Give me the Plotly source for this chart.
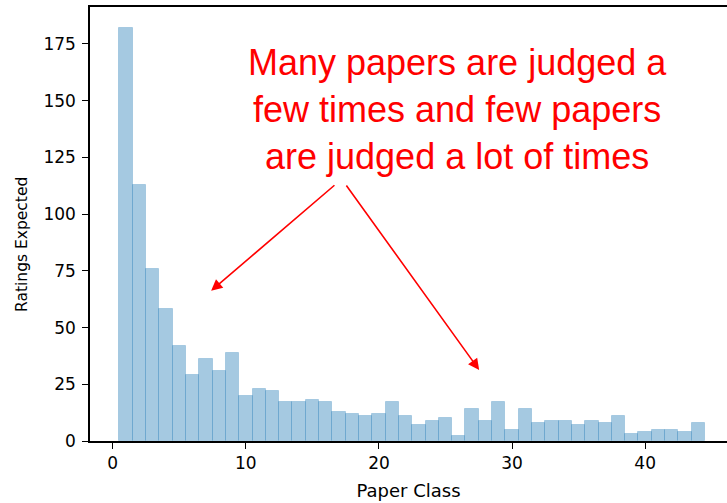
import plotly.graph_objects as go

# Histogram of how many ratings each paper class is expected to receive
paper_class = list(range(1, 45))
ratings_expected = [
    182, 113, 76, 58, 42, 29, 36, 31, 39, 20,
    23, 22, 17, 17, 18, 17, 13, 12, 11, 12,
    17, 11, 7, 9, 10, 2, 14, 9, 17, 5,
    14, 8, 9, 9, 7, 9, 8, 11, 3, 4,
    5, 5, 4, 8,
]
x_ticks = [0, 10, 20, 30, 40]
y_ticks = [0, 25, 50, 75, 100, 125, 150, 175]

note_text = "Many papers are judged a<br>few times and few papers<br>are judged a lot of times"

fig = go.Figure()
fig.add_trace(go.Bar(
    x=paper_class,
    y=ratings_expected,
    width=1.0,
    marker=dict(color="rgba(31,119,180,0.4)",
                line=dict(color="rgba(31,119,180,0.25)", width=1)),
    showlegend=False,
))

tick_font = dict(family="DejaVu Sans", size=17, color="#000000")

fig.update_layout(
    width=727, height=503,
    margin=dict(l=90, r=0, t=7, b=62),
    paper_bgcolor="white", plot_bgcolor="white",
    bargap=0,
    xaxis=dict(
        range=[-1.71, 46.15],
        tickvals=x_ticks, ticks="outside", ticklen=6, tickwidth=1.3,
        tickcolor="#000000", tickfont=tick_font,
        showgrid=False, zeroline=False,
        showline=True, linecolor="#000000", linewidth=1.5, mirror=True,
        title=dict(text="Paper Class",
                   font=dict(family="DejaVu Sans", size=18, color="#000000"),
                   standoff=12),
    ),
    yaxis=dict(
        range=[0, 191.3],
        tickvals=y_ticks, ticks="outside", ticklen=6, tickwidth=1.3,
        tickcolor="#000000", tickfont=tick_font, ticklabelstandoff=3,
        showgrid=False, zeroline=False,
        showline=True, linecolor="#000000", linewidth=1.5, mirror=False,
    ),
)

# Y-axis title, placed as rotated text beside the tick labels
fig.add_annotation(
    x=22, y=-245, xref="paper", yref="paper",
    text="Ratings Expected", showarrow=False, textangle=-90,
    font=dict(family="DejaVu Sans", size=15.5, color="#000000"),
    xanchor="center", yanchor="middle",
)

# Explanatory note
fig.add_annotation(
    x=25.9, y=146, xref="x", yref="y",
    text=note_text, showarrow=False,
    font=dict(family="Liberation Sans", size=36, color="#ff0000"),
    align="center", xanchor="center", yanchor="middle",
)

# Arrows pointing at the head and the tail of the distribution
for tail_x, tail_y, head_x, head_y in [(16.77, 113.3, 7.39, 66.2),
                                       (17.47, 113.3, 27.53, 31.3)]:
    fig.add_annotation(
        x=head_x, y=head_y, ax=tail_x, ay=tail_y,
        xref="x", yref="y", axref="x", ayref="y",
        text="", showarrow=True,
        arrowhead=2, arrowsize=1.4, arrowwidth=1.6, arrowcolor="#ff0000",
    )

# Convert the y-title position from pixels to paper coordinates
plot_left, plot_w = 90, 727 - 90
plot_top, plot_h = 7, 503 - 7 - 62
title_ann = fig.layout.annotations[0]
title_ann.x = (22 - plot_left) / plot_w
title_ann.y = (plot_top + plot_h - 245) / plot_h

fig.write_html("out.html")
